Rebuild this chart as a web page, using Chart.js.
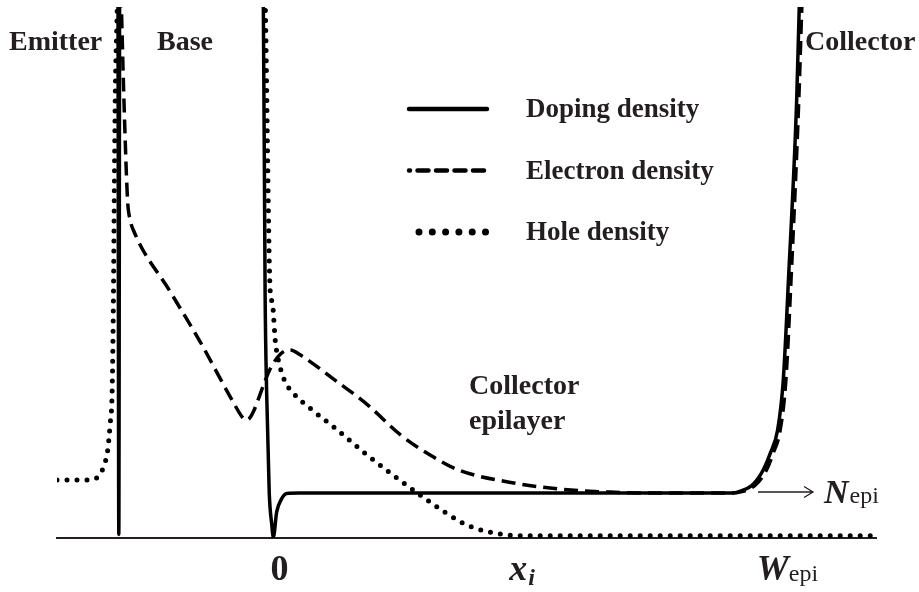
<!DOCTYPE html>
<html lang="en">
<head>
<meta charset="UTF-8">
<title>Carrier densities in a BJT</title>
<script src="https://cdn.jsdelivr.net/npm/chart.js@4.4.0/dist/chart.umd.min.js"></script>
<style>
  html, body { margin: 0; padding: 0; background: #fff; }
  #wrap { width: 919px; height: 592px; position: relative; }
</style>
</head>
<body>
<div id="wrap"><canvas id="profile"></canvas></div>
<script>
// x: 0 = base/collector junction, 10 = W_epi ; y: 1 = N_epi (values above ~11.8 run off the top)
const seriesLabels = ['Doping density', 'Electron density', 'Hole density'];

const dopingX = [-4.3, -3.02, -3.0, -2.98, -0.3, -0.194, -0.16, -0.13, -0.08, -0.03, 0, 0.065, 0.16, 0.26, 0.5,
                 8.93, 9.07, 9.32, 9.51, 9.65, 9.79, 9.9, 10.0, 10.16, 10.21, 10.25];
const dopingY = [14, 14, 0.08, 14, 14, 11.8, 5.44, 3.24, 1.02, 0.29, 0.02, 0.58, 0.87, 0.99, 1.0,
                 1.0, 1.04, 1.2, 1.51, 1.89, 2.4, 3.51, 5.73, 9.73, 11.8, 13];

const electronX = [-3.0, -2.95, -2.91, -2.83, -2.78, -2.72, -2.0, -1.42, -0.78, -0.6, -0.54, -0.47, -0.39, -0.19,
                   -0.06, 0.14, 0.33, 0.52, 1.17, 1.83, 2.47, 3.11, 3.6, 4.58, 5.55, 6.54, 7.5, 8.9, 9.1, 9.36,
                   9.56, 9.7, 9.84, 9.95, 10.05, 10.2, 10.26, 10.3];
const electronY = [13.5, 11.8, 10.1, 7.51, 7.07, 6.85, 5.47, 4.36, 3.02, 2.68, 2.62, 2.65, 2.8, 3.4,
                   3.76, 4.09, 4.18, 4.07, 3.53, 2.96, 2.29, 1.8, 1.51, 1.24, 1.09, 1.02, 1.0, 1.0, 1.03, 1.18,
                   1.48, 1.87, 2.4, 3.5, 5.73, 9.7, 11.8, 13];

const holeX = [-4.2, -3.55, -3.36, -3.28, -3.22, -3.17, -3.13, -3.11, -3.07, -3.03, -3.0, -0.2, -0.155,
               -0.06, -0.02, 0.04, 0.14, 0.23, 0.37, 0.76, 1.17, 1.75, 2.37, 2.99, 3.63, 3.86, 4.39, 5.0, 11.7];
const holeY = [1.29, 1.29, 1.42, 1.64, 1.91, 2.51, 3.24, 4.73, 9.73, 11.8, 14, 14, 11.8,
               5.47, 5.24, 4.36, 3.76, 3.47, 3.24, 2.84, 2.47, 1.91, 1.36, 0.84, 0.36, 0.24, 0.09, 0.05, 0.05];

// positions on the x axis: 0, x_i, W_epi
const tickValues = [0.12, 4.82, 9.98];
const tickMain = ['0', 'x', 'W'];
const tickSub = ['', 'i', 'epi'];

const regionLabels = ['Emitter', 'Base', 'Collector'];
const epiLabel = ['Collector', 'epilayer'];
const nLevel = 1.0;

const ink = '#231f20';
const serif = '"Liberation Serif", "Times New Roman", serif';

function pts(xs, ys) {
  return xs.map((x, i) => ({ x: x, y: ys[i] }));
}

const textPlugin = {
  id: 'sketchText',
  afterDatasetsDraw(chart) {
    const ctx = chart.ctx;
    const xs = chart.scales.x, ys = chart.scales.y;
    ctx.save();
    ctx.fillStyle = ink;
    ctx.textBaseline = 'alphabetic';
    ctx.textAlign = 'left';

    // region names
    ctx.font = 'bold 28px ' + serif;
    ctx.fillText(regionLabels[0], 9, 50);
    ctx.fillText(regionLabels[1], 157, 50);
    ctx.fillText(regionLabels[2], 805, 50);
    ctx.fillText(epiLabel[0], 469, 394);
    ctx.fillText(epiLabel[1], 469, 429);

    // legend, styles taken from the datasets
    chart.data.datasets.forEach((ds, i) => {
      const ly = 109 + i * 61.5;
      ctx.save();
      ctx.strokeStyle = ds.borderColor;
      ctx.lineCap = 'round';
      if (i === 0) { ctx.lineWidth = 4.5; ctx.setLineDash([]); }
      if (i === 1) { ctx.lineWidth = 4.5; ctx.setLineDash([11, 7.5]); ctx.lineDashOffset = 10; }
      if (i === 2) { ctx.lineWidth = 7; ctx.setLineDash([0, 13.3]); }
      ctx.beginPath();
      ctx.moveTo(i === 2 ? 419 : 409, ly);
      ctx.lineTo(487, ly);
      ctx.stroke();
      ctx.restore();
      ctx.font = 'bold 27px ' + serif;
      ctx.fillText(ds.label, 526, ly + 8);
    });

    // N_epi arrow
    const ay = ys.getPixelForValue(nLevel) - 1;
    ctx.strokeStyle = ink;
    ctx.lineWidth = 1.3;
    ctx.beginPath();
    ctx.moveTo(758, ay);
    ctx.lineTo(813, ay);
    ctx.moveTo(804, ay - 5.5);
    ctx.lineTo(813, ay);
    ctx.lineTo(804, ay + 5.5);
    ctx.stroke();
    ctx.font = 'italic bold 34px ' + serif;
    ctx.fillText('N', 824, ay + 11);
    const nw = ctx.measureText('N').width;
    ctx.font = '24px ' + serif;
    ctx.fillText('epi', 824 + nw + 1, ay + 11);

    // x-axis labels
    const base = 580;
    tickValues.forEach((v, i) => {
      const mainFont = (i === 0 ? 'bold 36px ' : 'italic bold 36px ') + serif;
      const subFont = (i === 1 ? 'italic bold 24px ' : '24px ') + serif;
      ctx.font = mainFont;
      const mw = ctx.measureText(tickMain[i]).width;
      ctx.font = subFont;
      const sw = tickSub[i] ? ctx.measureText(tickSub[i]).width : 0;
      const left = xs.getPixelForValue(v) - (mw + sw) / 2;
      ctx.font = mainFont;
      ctx.fillText(tickMain[i], left, base);
      if (tickSub[i]) {
        ctx.font = subFont;
        ctx.fillText(tickSub[i], left + mw + (i === 1 ? 1 : 0), base + (i === 1 ? 5 : 1));
      }
    });
    ctx.restore();
  }
};

const ctx = document.getElementById('profile').getContext('2d');
new Chart(ctx, {
  type: 'line',
  data: {
    datasets: [{
      label: seriesLabels[0],
      data: pts(dopingX, dopingY),
      borderColor: '#000',
      borderWidth: 3.5,
      pointRadius: 0,
      cubicInterpolationMode: 'monotone'
    }, {
      label: seriesLabels[1],
      data: pts(electronX, electronY),
      borderColor: '#000',
      borderWidth: 3.5,
      borderDash: [14, 7],
      pointRadius: 0,
      cubicInterpolationMode: 'monotone'
    }, {
      label: seriesLabels[2],
      data: pts(holeX, holeY),
      borderColor: '#000',
      borderWidth: 5,
      borderDash: [0, 10],
      borderCapStyle: 'round',
      pointRadius: 0,
      cubicInterpolationMode: 'monotone'
    }]
  },
  options: {
    responsive: true,
    maintainAspectRatio: false,
    animation: false,
    layout: { padding: { left: 57, right: 43, top: 7, bottom: 54 } },
    plugins: { legend: { display: false }, tooltip: { enabled: false } },
    scales: {
      x: {
        type: 'linear',
        min: -4.2,
        max: 11.7,
        grid: { display: false, drawTicks: false },
        border: { display: true, color: ink, width: 2 },
        ticks: { display: false }
      },
      y: {
        type: 'linear',
        min: 0,
        max: 11.8,
        display: false
      }
    }
  },
  plugins: [textPlugin]
});
</script>
</body>
</html>
